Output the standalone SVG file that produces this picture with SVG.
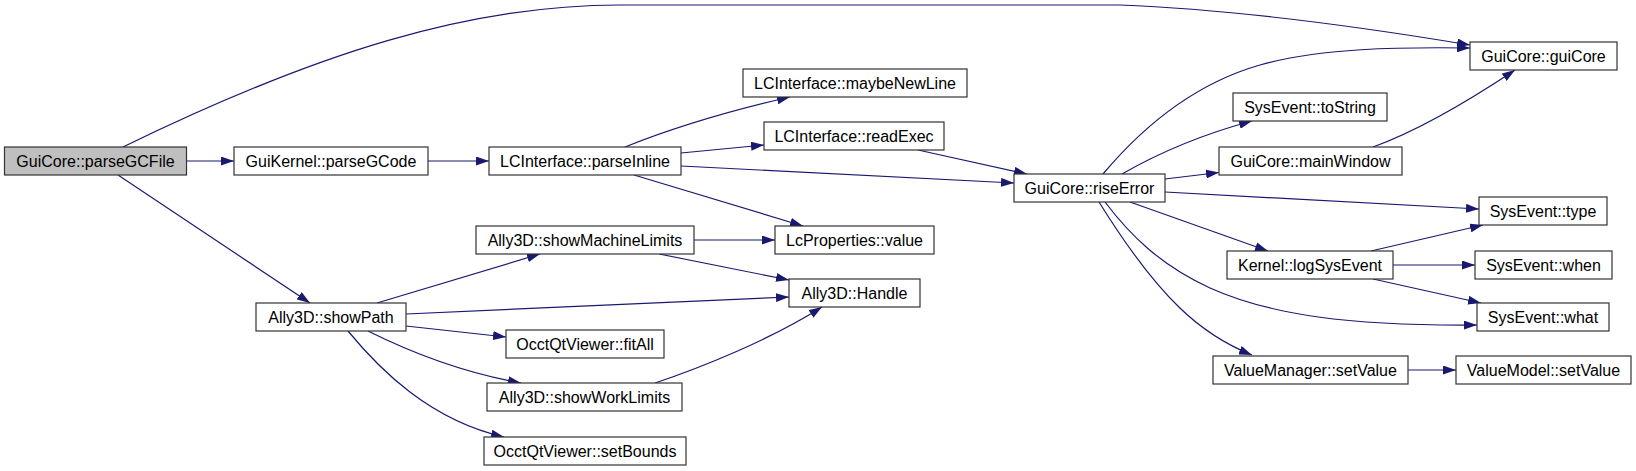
<svg xmlns="http://www.w3.org/2000/svg" width="1636" height="471" viewBox="0 0 1636 471">
<style>
.n rect{fill:#ffffff;stroke:#333333;stroke-width:1.2}
.n.root rect{fill:#bfbfbf}
.n text{font-family:"Liberation Sans",Arial,sans-serif;font-size:16px;fill:#000;text-anchor:middle}
.e path{fill:none;stroke:#191970;stroke-width:1.2;marker-end:url(#ah)}
</style>
<defs>
<marker id="ah" markerUnits="userSpaceOnUse" markerWidth="13" markerHeight="9" refX="13" refY="4.5" orient="auto">
<path d="M0,0 L13,4.5 L0,9 z" fill="#191970"/>
</marker>
</defs>
<rect width="1636" height="471" fill="#ffffff"/>
<g id="edges" class="e">
<path d="M187,161 L234,161"/>
<path d="M428,161 L489,161"/>
<path d="M118,175 L310,303"/>
<path d="M123,147 C318,52 470,5 620,5 L1120,5 C1250,10 1380,30 1470,45"/>
<path d="M625,147 C660,133 720,113 790,97"/>
<path d="M681,153 L764,145"/>
<path d="M681,166 L1014,183"/>
<path d="M634,175 L803,226"/>
<path d="M918,150 L1027,174"/>
<path d="M1103,174 C1140,130 1190,85 1260,65 C1320,48 1400,47 1470,48"/>
<path d="M1122,174 C1155,155 1200,135 1252,121"/>
<path d="M1165,179 L1219,172.5"/>
<path d="M1373,147 C1420,130 1470,100 1515,70"/>
<path d="M1165,192 L1479,209"/>
<path d="M1130,202 L1268,251"/>
<path d="M1105,202 C1130,235 1160,265 1210,288 C1270,315 1350,326 1477,325"/>
<path d="M1099,202 C1160,300 1202,335 1252,355"/>
<path d="M1371,251 L1483,225"/>
<path d="M1393,265 L1475,265"/>
<path d="M1373,279 L1481,303"/>
<path d="M1408,370 L1456,370"/>
<path d="M377,303 L540,254"/>
<path d="M694,240 L775,240"/>
<path d="M659,254 L789,280"/>
<path d="M406,314 L789,297"/>
<path d="M406,326 L506,337"/>
<path d="M368,331 C410,352 460,372 521,383"/>
<path d="M655,383 C700,368 770,340 822,307"/>
<path d="M348,331 C380,370 430,420 504,437"/>
</g>
<g id="n_parseGCFile" class="n root"><rect x="4.5" y="147" width="182" height="28"/><text x="95.5" y="166.5">GuiCore::parseGCFile</text></g>
<g id="n_parseGCode" class="n"><rect x="234" y="147" width="194" height="28"/><text x="331" y="166.5">GuiKernel::parseGCode</text></g>
<g id="n_parseInline" class="n"><rect x="489" y="147" width="192" height="28"/><text x="585" y="166.5">LCInterface::parseInline</text></g>
<g id="n_maybeNewLine" class="n"><rect x="743" y="69" width="224" height="28"/><text x="855" y="88.5">LCInterface::maybeNewLine</text></g>
<g id="n_readExec" class="n"><rect x="764" y="122" width="180" height="28"/><text x="854" y="141.5">LCInterface::readExec</text></g>
<g id="n_riseError" class="n"><rect x="1014" y="174" width="151" height="28"/><text x="1089.5" y="193.5">GuiCore::riseError</text></g>
<g id="n_lcvalue" class="n"><rect x="775" y="226" width="159" height="28"/><text x="854.5" y="245.5">LcProperties::value</text></g>
<g id="n_showMachineLimits" class="n"><rect x="476" y="226" width="218" height="28"/><text x="585" y="245.5">Ally3D::showMachineLimits</text></g>
<g id="n_handle" class="n"><rect x="789" y="279" width="131" height="28"/><text x="854.5" y="298.5">Ally3D::Handle</text></g>
<g id="n_showPath" class="n"><rect x="256" y="303" width="150" height="28"/><text x="331" y="322.5">Ally3D::showPath</text></g>
<g id="n_fitAll" class="n"><rect x="506" y="330" width="158" height="28"/><text x="585" y="349.5">OcctQtViewer::fitAll</text></g>
<g id="n_showWorkLimits" class="n"><rect x="487" y="383" width="195" height="28"/><text x="584.5" y="402.5">Ally3D::showWorkLimits</text></g>
<g id="n_setBounds" class="n"><rect x="484" y="437" width="202" height="28"/><text x="585" y="456.5">OcctQtViewer::setBounds</text></g>
<g id="n_guiCore" class="n"><rect x="1470" y="42" width="147" height="28"/><text x="1543.5" y="61.5">GuiCore::guiCore</text></g>
<g id="n_toString" class="n"><rect x="1233" y="93" width="154" height="28"/><text x="1310" y="112.5">SysEvent::toString</text></g>
<g id="n_mainWindow" class="n"><rect x="1219" y="147" width="183" height="28"/><text x="1310.5" y="166.5">GuiCore::mainWindow</text></g>
<g id="n_type" class="n"><rect x="1479" y="197" width="128" height="28"/><text x="1543" y="216.5">SysEvent::type</text></g>
<g id="n_logSysEvent" class="n"><rect x="1227" y="251" width="166" height="28"/><text x="1310" y="270.5">Kernel::logSysEvent</text></g>
<g id="n_when" class="n"><rect x="1475" y="251" width="137" height="28"/><text x="1543.5" y="270.5">SysEvent::when</text></g>
<g id="n_what" class="n"><rect x="1477" y="303" width="132" height="28"/><text x="1543" y="322.5">SysEvent::what</text></g>
<g id="n_vmsetValue" class="n"><rect x="1213" y="356" width="195" height="28"/><text x="1310.5" y="375.5">ValueManager::setValue</text></g>
<g id="n_vmodelsetValue" class="n"><rect x="1456" y="356" width="175" height="28"/><text x="1543.5" y="375.5">ValueModel::setValue</text></g>
</svg>
